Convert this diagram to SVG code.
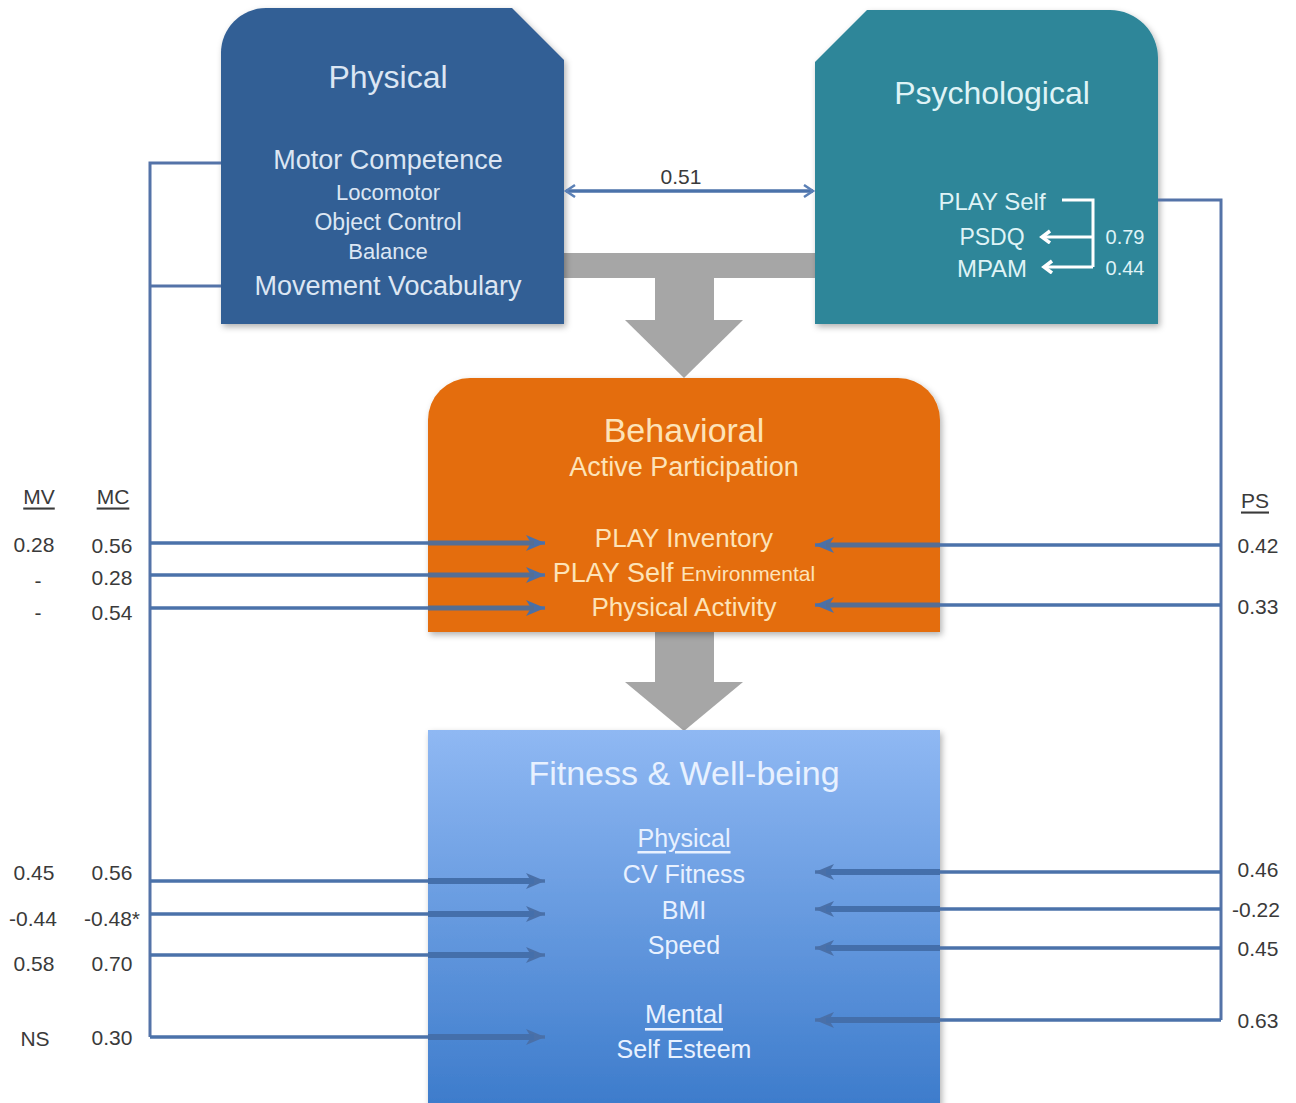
<svg xmlns="http://www.w3.org/2000/svg" width="1296" height="1103" viewBox="0 0 1296 1103">
<defs>
  <filter id="sh" x="-10%" y="-10%" width="120%" height="120%">
    <feDropShadow dx="2" dy="3" stdDeviation="3" flood-color="#000" flood-opacity="0.3"/>
  </filter>
  <linearGradient id="fitGrad" x1="0" y1="0" x2="0" y2="1">
    <stop offset="0" stop-color="#8fb8f3"/>
    <stop offset="1" stop-color="#3c7bcb"/>
  </linearGradient>
  <marker id="ah" markerUnits="userSpaceOnUse" markerWidth="22" markerHeight="22" refX="19" refY="10" orient="auto" overflow="visible">
    <path d="M0,2 L19,10 L0,18 L5,10 Z" fill="#4a70a8"/>
  </marker>
  <marker id="oh" markerUnits="userSpaceOnUse" markerWidth="14" markerHeight="16" refX="11" refY="7" orient="auto-start-reverse">
    <path d="M2,1 L11,7 L2,13" fill="none" stroke="#5b80b6" stroke-width="2.5"/>
  </marker>
  <marker id="wh" markerUnits="userSpaceOnUse" markerWidth="14" markerHeight="16" refX="10" refY="7" orient="auto">
    <path d="M2,1 L10,7 L2,13" fill="none" stroke="#ffffff" stroke-width="3.5" stroke-linejoin="miter"/>
  </marker>
  <style>
    text { font-family: "Liberation Sans", Arial, sans-serif; text-anchor: middle; dominant-baseline: central; }
    .phys { fill: #dce6f3; }
    .psy { fill: #dff3f6; }
    .beh { fill: #fde3b8; }
    .fit { fill: #e8f1ff; }
    .lbl { fill: #3a3a3a; font-size: 21px; }
    .conn { fill: none; stroke: #4b72aa; stroke-width: 3.5; }
    .inb { fill: none; stroke: #546e94; stroke-width: 5; }
    .inf { fill: none; stroke: #446fab; stroke-width: 6; }
    .bus { fill: none; stroke: #5473a8; stroke-width: 3; }
    .grey { fill: #a6a6a6; }
  </style>
</defs>
<rect width="1296" height="1103" fill="#ffffff"/>

<!-- grey flow arrows -->
<g id="flow-arrows">
  <rect class="grey" x="564" y="253" width="251" height="25"/>
  <rect class="grey" x="655" y="277" width="59" height="44"/>
  <polygon class="grey" points="625,320 743,320 684,378"/>
  <rect class="grey" x="655" y="630" width="59" height="53"/>
  <polygon class="grey" points="625,682 743,682 684,731"/>
</g>

<g id="node-physical">
  <path d="M221,53 A45,45 0 0 1 266,8 H512 L564,60 V324 H221 Z" fill="#335f95" filter="url(#sh)"/>
  <text class="phys" x="388" y="77" font-size="32">Physical</text>
  <text class="phys" x="388" y="160" font-size="27">Motor Competence</text>
  <text class="phys" x="388" y="192" font-size="22">Locomotor</text>
  <text class="phys" x="388" y="222" font-size="23">Object Control</text>
  <text class="phys" x="388" y="251" font-size="22">Balance</text>
  <text class="phys" x="388" y="286" font-size="27">Movement Vocabulary</text>
</g>

<g id="node-psychological">
  <path d="M815,62 L867,10 H1110 A48,48 0 0 1 1158,58 V324 H815 Z" fill="#2e8699" filter="url(#sh)"/>
  <text class="psy" x="992" y="93" font-size="32">Psychological</text>
  <text class="psy" x="992" y="201" font-size="24">PLAY Self</text>
  <text class="psy" x="992" y="237" font-size="23">PSDQ</text>
  <text class="psy" x="992" y="268" font-size="24">MPAM</text>
  <path d="M1062,200 H1093 V267" fill="none" stroke="#ffffff" stroke-width="3"/>
  <path d="M1093,237 H1042" fill="none" stroke="#ffffff" stroke-width="3" marker-end="url(#wh)"/>
  <path d="M1093,267 H1044" fill="none" stroke="#ffffff" stroke-width="3" marker-end="url(#wh)"/>
  <text class="psy" x="1125" y="237" font-size="20">0.79</text>
  <text class="psy" x="1125" y="268" font-size="20">0.44</text>
</g>

<g id="node-behavioral">
  <path d="M428,420 A42,42 0 0 1 470,378 H898 A42,42 0 0 1 940,420 V632 H428 Z" fill="#e46d0a" filter="url(#sh)"/>
  <text class="beh" x="684" y="430" font-size="34">Behavioral</text>
  <text class="beh" x="684" y="467" font-size="27">Active Participation</text>
  <text class="beh" x="684" y="538" font-size="26">PLAY Inventory</text>
  <text class="beh" x="684" y="573"><tspan font-size="27">PLAY Self </tspan><tspan font-size="21">Environmental</tspan></text>
  <text class="beh" x="684" y="607" font-size="26">Physical Activity</text>
</g>

<g id="node-fitness">
  <rect x="428" y="730" width="512" height="380" fill="url(#fitGrad)" filter="url(#sh)"/>
  <text class="fit" x="684" y="773" font-size="34">Fitness &amp; Well-being</text>
  <text class="fit" x="684" y="838" font-size="25" text-decoration="underline">Physical</text>
  <text class="fit" x="684" y="874" font-size="25">CV Fitness</text>
  <text class="fit" x="684" y="910" font-size="25">BMI</text>
  <text class="fit" x="684" y="945" font-size="25">Speed</text>
  <text class="fit" x="684" y="1014" font-size="26" text-decoration="underline">Mental</text>
  <text class="fit" x="684" y="1049" font-size="25">Self Esteem</text>
</g>

<g id="connectors">
  <path class="conn" d="M566,191 H813" marker-start="url(#oh)" marker-end="url(#oh)" stroke="#5b80b6" stroke-width="2.5"/>
  <!-- left bus -->
  <path class="bus" d="M221,163 H150 V1037"/>
  <path class="bus" d="M150,286 H221"/>
  <path class="conn" d="M150,543 H545" marker-end="url(#ah)"/>
  <path class="conn" d="M150,575 H545" marker-end="url(#ah)"/>
  <path class="conn" d="M150,608 H545" marker-end="url(#ah)"/>
  <path class="conn" d="M150,881 H545" marker-end="url(#ah)"/>
  <path class="conn" d="M150,914 H545" marker-end="url(#ah)"/>
  <path class="conn" d="M150,955 H545" marker-end="url(#ah)"/>
  <path class="conn" d="M150,1037 H545" marker-end="url(#ah)"/>
  <!-- right bus -->
  <path class="bus" d="M1158,200 H1221 V1020"/>
  <path class="conn" d="M1221,545 H815" marker-end="url(#ah)"/>
  <path class="conn" d="M1221,605 H815" marker-end="url(#ah)"/>
  <path class="conn" d="M1221,872 H815" marker-end="url(#ah)"/>
  <path class="conn" d="M1221,909 H815" marker-end="url(#ah)"/>
  <path class="conn" d="M1221,948 H815" marker-end="url(#ah)"/>
  <path class="conn" d="M1221,1020 H815" marker-end="url(#ah)"/>
  <path class="inb" d="M428,543 H534 M428,575 H534 M428,608 H534 M940,545 H826 M940,605 H826"/>
  <path class="inf" d="M428,881 H534 M428,914 H534 M428,955 H534 M428,1037 H534 M940,872 H826 M940,909 H826 M940,948 H826 M940,1020 H826"/>
</g>

<g id="labels">
  <text class="lbl" x="681" y="176">0.51</text>
  <text class="lbl" x="39" y="496" text-decoration="underline">MV</text>
  <text class="lbl" x="113" y="496" text-decoration="underline">MC</text>
  <text class="lbl" x="34" y="544">0.28</text>
  <text class="lbl" x="112" y="545">0.56</text>
  <text class="lbl" x="38" y="580">-</text>
  <text class="lbl" x="112" y="577">0.28</text>
  <text class="lbl" x="38" y="612">-</text>
  <text class="lbl" x="112" y="612">0.54</text>
  <text class="lbl" x="34" y="872">0.45</text>
  <text class="lbl" x="112" y="872">0.56</text>
  <text class="lbl" x="33" y="918">-0.44</text>
  <text class="lbl" x="112" y="918">-0.48*</text>
  <text class="lbl" x="34" y="963">0.58</text>
  <text class="lbl" x="112" y="963">0.70</text>
  <text class="lbl" x="35" y="1038">NS</text>
  <text class="lbl" x="112" y="1037">0.30</text>
  <text class="lbl" x="1255" y="500" text-decoration="underline">PS</text>
  <text class="lbl" x="1258" y="545">0.42</text>
  <text class="lbl" x="1258" y="606">0.33</text>
  <text class="lbl" x="1258" y="869">0.46</text>
  <text class="lbl" x="1256" y="909">-0.22</text>
  <text class="lbl" x="1258" y="948">0.45</text>
  <text class="lbl" x="1258" y="1020">0.63</text>
</g>
</svg>
